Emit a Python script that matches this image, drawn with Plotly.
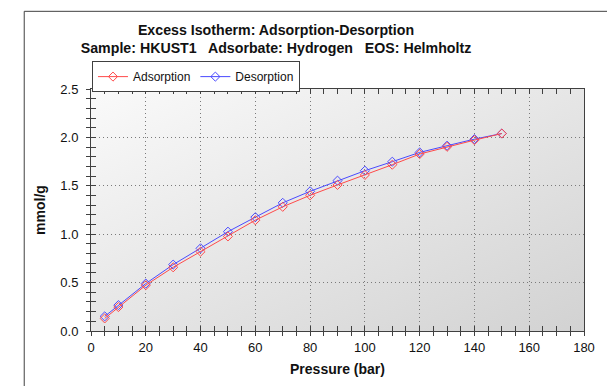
import base64
import plotly.graph_objects as go

pressure_ads = [5, 10, 20, 30, 40, 50, 60, 70, 80, 90, 100, 110, 120, 130, 140, 150]
uptake_ads = [0.13, 0.247, 0.473, 0.658, 0.82, 0.977, 1.145, 1.283, 1.402, 1.509, 1.612, 1.718, 1.828, 1.903, 1.972, 2.04]
pressure_des = [5, 10, 20, 30, 40, 50, 60, 70, 80, 90, 100, 110, 120, 130, 140, 150]
uptake_des = [0.151, 0.267, 0.49, 0.686, 0.854, 1.026, 1.176, 1.324, 1.443, 1.553, 1.656, 1.749, 1.845, 1.914, 1.982, 2.04]

x_ticks = [0, 20, 40, 60, 80, 100, 120, 140, 160, 180]
y_ticks = [0.0, 0.5, 1.0, 1.5, 2.0, 2.5]

W, H = 607, 386
L, R, T, B = 91, 593, 89, 332
PW, PH = R - L, B - T

def px(xp):
    return (xp - L) / PW

def py(yp):
    return (B - yp) / PH

FONT = "Liberation Sans, Arial, sans-serif"
RED = "#ff4a4a"
BLUE = "#4a4aff"

fig = go.Figure()
fig.add_trace(go.Scatter(
    x=pressure_des, y=uptake_des, name="Desorption", mode="lines+markers",
    line=dict(color=BLUE, width=1),
    marker=dict(symbol="diamond-open", size=7, color=BLUE, line=dict(width=1)),
    legendrank=2,
))
fig.add_trace(go.Scatter(
    x=pressure_ads, y=uptake_ads, name="Adsorption", mode="lines+markers",
    line=dict(color=RED, width=1),
    marker=dict(symbol="diamond-open", size=7, color=RED, line=dict(width=1)),
    legendrank=1,
))
# invisible trace to host the overlay axes (inner half of crossing ticks)
fig.add_trace(go.Scatter(x=[None], y=[None], xaxis="x2", yaxis="y2",
                         showlegend=False, hoverinfo="skip"))

svg = ("<svg xmlns='http://www.w3.org/2000/svg' width='502' height='243' preserveAspectRatio='none'>"
       "<defs><linearGradient id='g' x1='0' y1='0' x2='1' y2='1'>"
       "<stop offset='0' stop-color='#fafafa'/><stop offset='1' stop-color='#d2d2d2'/>"
       "</linearGradient></defs><rect width='100%' height='100%' fill='url(#g)'/></svg>")
img_src = "data:image/svg+xml;base64," + base64.b64encode(svg.encode()).decode()

axis_line = dict(showline=True, linecolor="#404040", linewidth=1)
tickfont = dict(family=FONT, size=13, color="#111")
GRID = dict(showgrid=True, gridcolor="#7a7a7a", griddash="1px,3px", gridwidth=1)

fig.update_layout(
    width=W, height=H,
    margin=dict(l=L, r=W - R, t=T, b=H - B),
    paper_bgcolor="white", plot_bgcolor="white",
    font=dict(family=FONT),
    title=dict(
        text="<b>Excess Isotherm: Adsorption-Desorption</b><br><b>Sample: HKUST1   Adsorbate: Hydrogen   EOS: Helmholtz</b>",
        font=dict(family=FONT, size=14.2, color="#111"),
        xref="container", x=276 / W, xanchor="center",
        yref="container", y=1 - 35 / H, yanchor="top",
    ),
    xaxis=dict(
        range=[0, 180], tickvals=x_ticks, ticks="outside", ticklen=4, tickcolor="#404040",
        minor=dict(dtick=5, ticks="outside", ticklen=4, tickcolor="#404040", showgrid=False),
        zeroline=False, mirror=True, tickfont=tickfont,
        title=dict(text="<b>Pressure (bar)</b>", font=dict(family=FONT, size=14, color="#111"), standoff=10),
        **GRID, **axis_line,
    ),
    yaxis=dict(
        range=[0, 2.5], tickvals=y_ticks, tickformat=".1f", ticks="outside", ticklen=4, tickcolor="#404040",
        minor=dict(dtick=0.1, ticks="outside", ticklen=4, tickcolor="#404040", showgrid=False),
        zeroline=False, mirror=True, tickfont=tickfont, ticklabelstandoff=5,
        title=dict(text="<b>mmol/g</b>", font=dict(family=FONT, size=14, color="#111"), standoff=11),
        **GRID, **axis_line,
    ),
    xaxis2=dict(
        overlaying="x", matches="x", range=[0, 180], side="bottom", tickvals=x_ticks,
        ticks="inside", ticklen=5, tickcolor="#404040", showticklabels=False,
        minor=dict(dtick=5, ticks="inside", ticklen=5, tickcolor="#404040"),
        showgrid=False, zeroline=False, showline=False, mirror="ticks",
    ),
    yaxis2=dict(
        overlaying="y", matches="y", range=[0, 2.5], side="left", tickvals=y_ticks,
        ticks="inside", ticklen=5, tickcolor="#404040", showticklabels=False,
        minor=dict(dtick=0.1, ticks="inside", ticklen=5, tickcolor="#404040"),
        showgrid=False, zeroline=False, showline=False,
    ),
    legend=dict(
        orientation="h", x=px(92), y=py(61), xanchor="left", yanchor="top",
        bordercolor="#404040", borderwidth=1, bgcolor="white",
        font=dict(family=FONT, size=12, color="#111"),
        itemwidth=30, tracegroupgap=0,
    ),
    images=[dict(source=img_src, xref="paper", yref="paper", x=0, y=1,
                 sizex=1, sizey=1, sizing="stretch", layer="below")],
    shapes=[dict(type="rect", xref="paper", yref="paper",
                 x0=px(23), x1=px(700), y0=py(11), y1=py(420),
                 line=dict(color="#404040", width=1), fillcolor="rgba(0,0,0,0)", layer="below")],
    showlegend=True,
)

fig.write_html("out.html")
